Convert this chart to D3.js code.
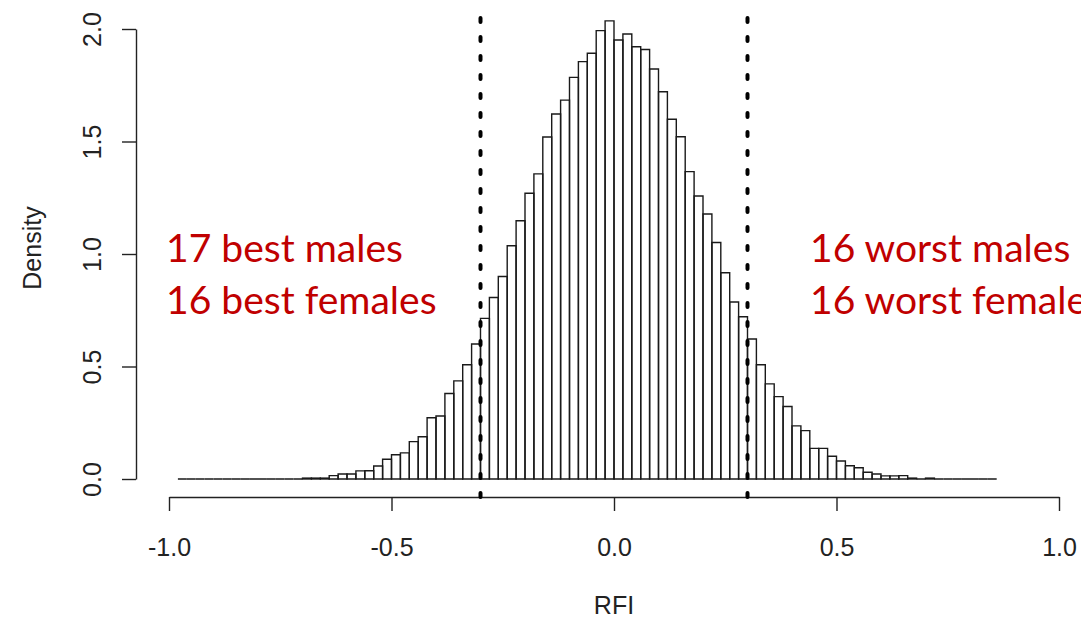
<!DOCTYPE html>
<html>
<head>
<meta charset="utf-8">
<script src="https://cdn.jsdelivr.net/npm/d3@7"></script>
<style>
body { margin: 0; background: #fff; }
</style>
</head>
<body>
<div id="chart"></div>
<script>
// RFI density histogram, bins of 0.02 starting at -0.98
var binStart = -0.98;
var binWidth = 0.02;
var density = [
    0, 0, 0, 0, 0, 0, 0, 0, 0, 0, 0, 0, 0, 0,
    0.004, 0.004, 0.004, 0.015, 0.022, 0.022, 0.036, 0.037, 0.058, 0.088,
    0.108, 0.116, 0.166, 0.188, 0.272, 0.280, 0.380, 0.436, 0.508, 0.600,
    0.714, 0.807, 0.900, 1.037, 1.148, 1.270, 1.356, 1.520, 1.622, 1.684,
    1.785, 1.855, 1.892, 1.993, 2.036,
    1.951, 1.978, 1.921, 1.909, 1.822, 1.721, 1.599, 1.521, 1.366, 1.258,
    1.178, 1.051, 0.917, 0.787, 0.721, 0.622, 0.508, 0.423, 0.366, 0.322,
    0.236, 0.215, 0.136, 0.136, 0.101, 0.080, 0.059, 0.050, 0.030, 0.022,
    0.014, 0.014, 0.015, 0.004, 0, 0.004,
    0, 0, 0, 0, 0, 0, 0
];
var xTicks = [-1, -0.5, 0, 0.5, 1];
var yTicks = [0, 0.5, 1, 1.5, 2];
var cutoffs = [-0.3, 0.3];
var leftNotes = ["17 best males", "16 best females"];
var rightNotes = ["16 worst males", "16 worst females"];

var width = 1081, height = 622;
var svg = d3.select("#chart").append("svg")
    .attr("width", width)
    .attr("height", height);

var x = d3.scaleLinear().domain([-1, 1]).range([169, 1059]);
var y = d3.scaleLinear().domain([0, 2]).range([479, 29]);

// bars (zero-height bins still drawn as a line, like R)
svg.append("g").selectAll("path")
    .data(density)
    .enter().append("path")
    .attr("d", function(d, i){
        var x0 = x(binStart + i * binWidth);
        var x1 = x(binStart + (i + 1) * binWidth);
        return "M" + x0 + "," + y(0) + "V" + y(d) + "H" + x1 + "V" + y(0) + "Z";
    })
    .attr("fill", "none")
    .attr("stroke", "#1a1a1a")
    .attr("stroke-width", 1.4);

// axes
var axisFont = "'Liberation Sans', Arial, sans-serif";
var xAxis = svg.append("g")
    .attr("transform", "translate(0,497)")
    .call(d3.axisBottom(x).tickValues(xTicks).tickSize(14).tickSizeOuter(0)
        .tickPadding(27).tickFormat(function(d){ return d.toFixed(1); }));
xAxis.attr("font-size", 25).attr("font-family", axisFont);
xAxis.selectAll("text").attr("fill", "#222");
xAxis.selectAll("line, path").attr("stroke", "#222").attr("stroke-width", 1.4);

var yAxis = svg.append("g")
    .attr("transform", "translate(136,0)")
    .call(d3.axisLeft(y).tickValues(yTicks).tickSize(14).tickSizeOuter(0)
        .tickFormat(function(d){ return d.toFixed(1); }));
yAxis.attr("font-size", 25).attr("font-family", axisFont);
yAxis.selectAll("text")
    .attr("x", null).attr("dy", null)
    .attr("fill", "#222")
    .attr("text-anchor", "middle")
    .attr("transform", "translate(-35,0) rotate(-90)");
yAxis.selectAll("line, path").attr("stroke", "#222").attr("stroke-width", 1.4);

svg.append("text")
    .attr("transform", "translate(41,248) rotate(-90)")
    .attr("text-anchor", "middle")
    .attr("font-family", axisFont)
    .attr("font-size", 25)
    .attr("fill", "#222")
    .text("Density");

svg.append("text")
    .attr("x", x(0))
    .attr("y", 614)
    .attr("text-anchor", "middle")
    .attr("font-family", axisFont)
    .attr("font-size", 25)
    .attr("fill", "#222")
    .text("RFI");

// cutoff lines
svg.append("g").selectAll("line")
    .data(cutoffs)
    .enter().append("line")
    .attr("x1", function(d){ return x(d); })
    .attr("x2", function(d){ return x(d); })
    .attr("y1", 497)
    .attr("y2", 6)
    .attr("stroke", "#000")
    .attr("stroke-width", 4)
    .attr("stroke-linecap", "round")
    .attr("stroke-dasharray", "4,15");

// red notes, size fitted to the width in the picture
var notes = svg.append("g")
    .attr("fill", "#c00000")
    .attr("font-family", "Lato, 'Open Sans', sans-serif");
var probe = notes.append("text").attr("font-size", 40).text(leftNotes[0]);
var noteSize = 40 * 237 / probe.node().getComputedTextLength();
probe.remove();

function addNotes(lines, left){
    notes.selectAll(null)
        .data(lines)
        .enter().append("text")
        .attr("x", left)
        .attr("y", function(d, i){ return 262 + i * 52; })
        .attr("font-size", noteSize)
        .text(function(d){ return d; });
}
addNotes(leftNotes, 166);
addNotes(rightNotes, 810);
</script>
</body>
</html>
